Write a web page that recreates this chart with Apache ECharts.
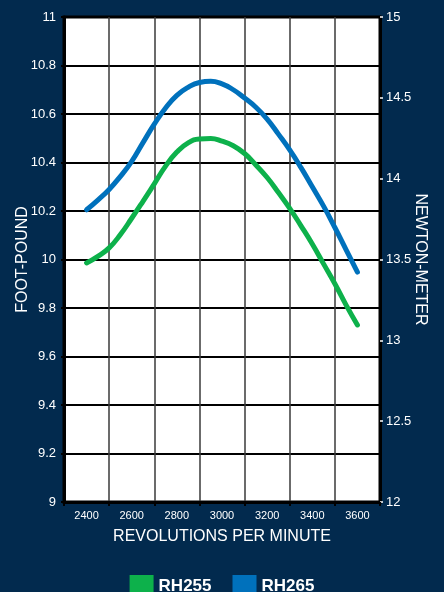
<!DOCTYPE html>
<html>
<head>
<meta charset="utf-8">
<script src="https://cdn.jsdelivr.net/npm/echarts@6/dist/echarts.min.js"></script>
<style>
html,body{margin:0;padding:0;background:#022a4e;}
#c{width:444px;height:592px;}
</style>
</head>
<body>
<div id="c"></div>
<script>
var categories = ['2400','2600','2800','3000','3200','3400','3600'];
var rpm = [2400,2450,2500,2550,2600,2650,2700,2750,2800,2850,2900,2950,3000,3050,3100,3150,3200,3250,3300,3350,3400,3450,3500,3550,3600];
var rh255 = [9.986,10.013,10.048,10.103,10.170,10.240,10.312,10.385,10.443,10.481,10.497,10.499,10.488,10.469,10.437,10.39,10.338,10.276,10.211,10.139,10.064,9.982,9.90,9.812,9.73];
var rh265 = [10.205,10.245,10.289,10.343,10.405,10.482,10.558,10.625,10.677,10.71,10.73,10.735,10.724,10.70,10.666,10.628,10.579,10.517,10.452,10.379,10.30,10.22,10.132,10.04,9.948];
var seriesNames = ['RH255','RH265'];

function pairs(xs, ys){ return xs.map(function(x,i){ return [x, ys[i]]; }); }

var FONT = "'Liberation Sans', Arial, Helvetica, sans-serif";
var chart = echarts.init(document.getElementById('c'));
chart.setOption({
  backgroundColor: '#022a4e',
  animation: false,
  textStyle: {fontFamily: FONT},
  grid: {left: 64, right: 64, top: 17, bottom: 90, show: true, backgroundColor: '#ffffff', borderColor: '#000000', borderWidth: 3, containLabel: false, outerBoundsMode: 'none'},
  legend: {
    data: seriesNames, top: 570, left: 'center',
    icon: 'rect', itemWidth: 24, itemHeight: 22, itemGap: 21,
    textStyle: {color: '#ffffff', fontSize: 17, fontWeight: 'bold', fontFamily: FONT}
  },
  xAxis: [{
    type: 'category', data: categories, boundaryGap: true,
    name: 'REVOLUTIONS PER MINUTE', nameLocation: 'middle', nameGap: 27, nameMoveOverlap: false,
    nameTextStyle: {color: '#ffffff', fontSize: 16, fontFamily: FONT},
    axisLine: {lineStyle: {color: '#000000', width: 3}},
    axisTick: {show: true, length: 4, lineStyle: {color: '#000000', width: 2}},
    axisLabel: {color: '#ffffff', fontSize: 11, margin: 8},
    splitLine: {show: true, lineStyle: {color: '#3a3a3a', width: 1.5}}
  }, {
    type: 'value', min: 2300, max: 3700, show: false
  }],
  yAxis: [{
    type: 'value', min: 9, max: 11, interval: 0.2, position: 'left',
    name: 'FOOT-POUND', nameLocation: 'middle', nameGap: 33, nameMoveOverlap: false,
    nameTextStyle: {color: '#ffffff', fontSize: 16, fontFamily: FONT},
    axisLine: {show: true, lineStyle: {color: '#000000', width: 3}},
    axisTick: {show: true, length: 3, lineStyle: {color: '#000000', width: 2}},
    axisLabel: {color: '#ffffff', fontSize: 13, margin: 8, formatter: function(v){ return String(Math.round(v*10)/10); }},
    splitLine: {show: true, lineStyle: {color: '#000000', width: 2}}
  }, {
    type: 'value', min: 12, max: 15, interval: 0.5, position: 'right',
    name: 'NEWTON-METER', nameLocation: 'middle', nameGap: 32, nameRotate: -90, nameMoveOverlap: false,
    nameTextStyle: {color: '#ffffff', fontSize: 16, fontFamily: FONT},
    axisLine: {show: true, lineStyle: {color: '#000000', width: 3}},
    axisTick: {show: true, length: 3, lineStyle: {color: '#ffffff', width: 1.5}},
    axisLabel: {color: '#ffffff', fontSize: 13, margin: 6},
    splitLine: {show: false}
  }],
  series: [{
    name: seriesNames[0], type: 'line', xAxisIndex: 1, yAxisIndex: 0,
    data: pairs(rpm, rh255), smooth: 0.5, symbol: 'none',
    itemStyle: {color: '#0db14b'},
    lineStyle: {color: '#0db14b', width: 5, cap: 'round'}
  }, {
    name: seriesNames[1], type: 'line', xAxisIndex: 1, yAxisIndex: 0,
    data: pairs(rpm, rh265), smooth: 0.5, symbol: 'none',
    itemStyle: {color: '#0071bc'},
    lineStyle: {color: '#0071bc', width: 5, cap: 'round'}
  }]
});
</script>
</body>
</html>
